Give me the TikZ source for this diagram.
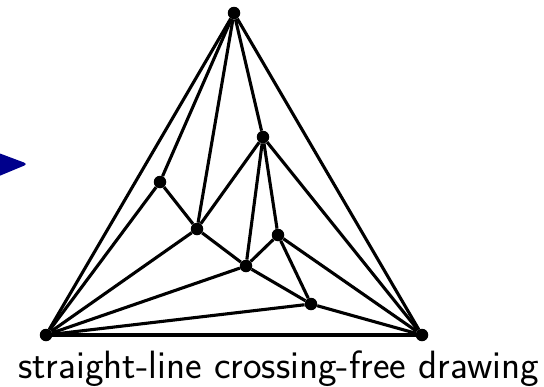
\documentclass[tikz,border=0pt]{standalone}
\usepackage{fontspec}
\definecolor{navyarrow}{RGB}{0,0,140}
\tikzset{
  vtx/.style={circle,fill=black,inner sep=0pt,minimum size=12.5pt},
  edge/.style={line width=3.1pt},
}
\begin{document}
\begin{tikzpicture}[x=1pt,y=-1pt]
\useasboundingbox (0,0) rectangle (544,386);
% blue arrow tip at left edge
\fill[navyarrow,rounded corners=4pt] (-20,146) -- (28,164) -- (-20,184) -- cycle;
\node[vtx] (T) at (234,13) {};
\node[vtx] (L) at (46,335) {};
\node[vtx] (R) at (422,335) {};
\node[vtx] (a) at (160,182) {};
\node[vtx] (b) at (197,229) {};
\node[vtx] (c) at (263,137) {};
\node[vtx] (d) at (278,235) {};
\node[vtx] (e) at (246,266) {};
\node[vtx] (f) at (311,304) {};
\draw[edge] (T) -- (L);
\draw[edge] (T) -- (R);
\draw[edge] (L) -- (R);
\draw[edge] (T) -- (a);
\draw[edge] (T) -- (b);
\draw[edge] (T) -- (c);
\draw[edge] (L) -- (a);
\draw[edge] (L) -- (b);
\draw[edge] (L) -- (e);
\draw[edge] (L) -- (f);
\draw[edge] (a) -- (b);
\draw[edge] (b) -- (c);
\draw[edge] (b) -- (e);
\draw[edge] (c) -- (e);
\draw[edge] (c) -- (d);
\draw[edge] (c) -- (R);
\draw[edge] (d) -- (e);
\draw[edge] (d) -- (f);
\draw[edge] (d) -- (R);
\draw[edge] (e) -- (f);
\draw[edge] (f) -- (R);
\node[anchor=base,inner sep=0pt,font=\sffamily\fontsize{39.5}{46}\selectfont] (cap) at (278.5,378) {straight-line crossing-free drawing};
\end{tikzpicture}
\end{document}
